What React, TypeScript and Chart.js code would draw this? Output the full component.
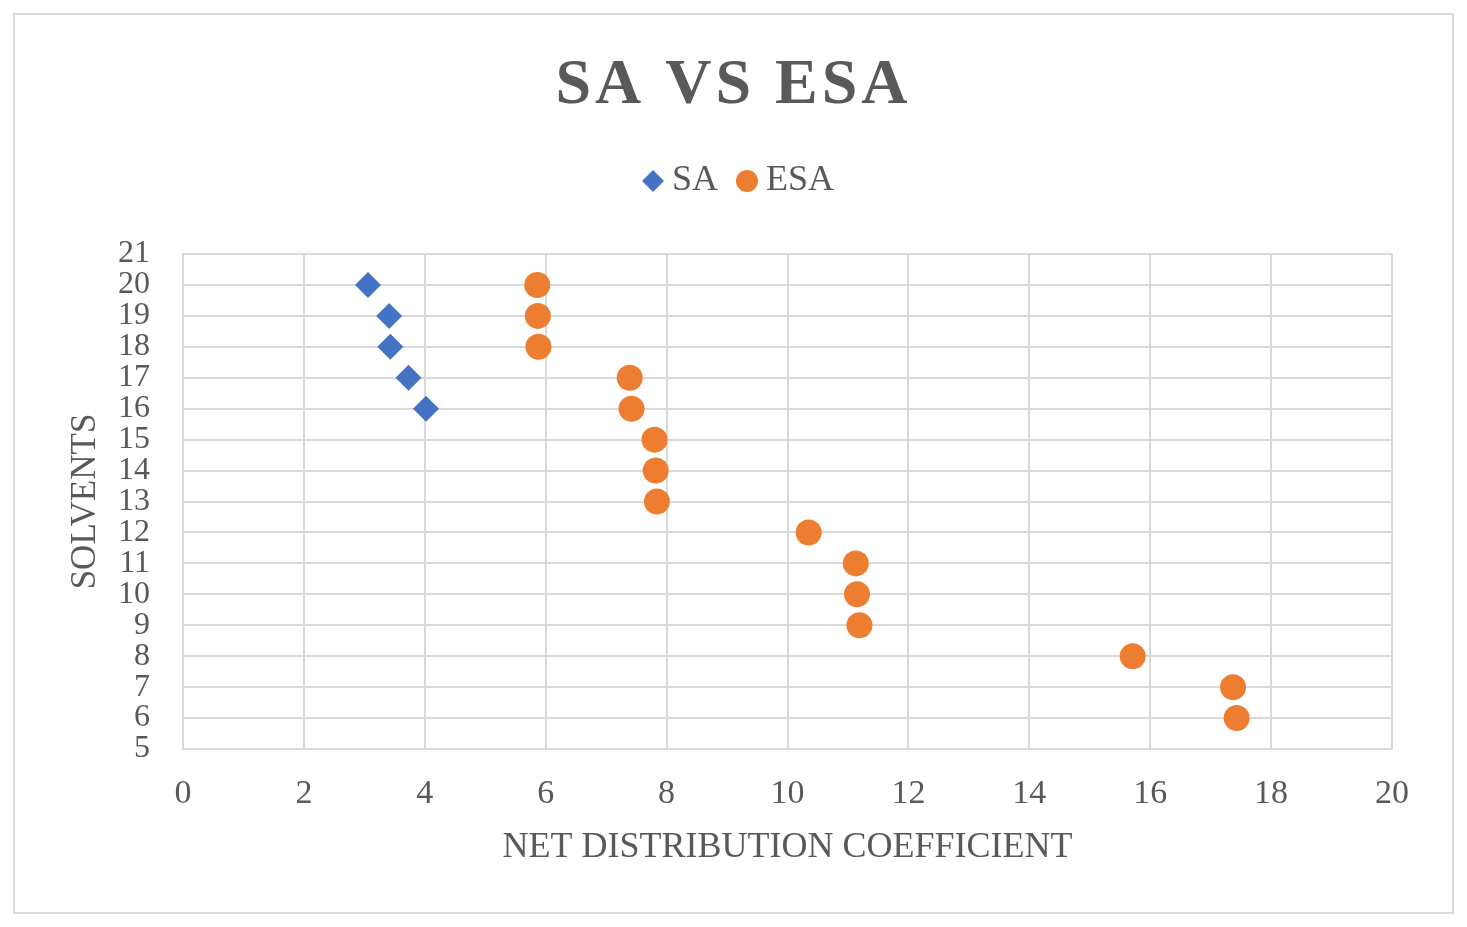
import React, { useEffect, useRef } from "react";
import { Chart, registerables } from "chart.js";

Chart.register(...registerables);

const TITLE = "SA VS ESA";
const X_TITLE = "NET DISTRIBUTION COEFFICIENT";
const Y_TITLE = "SOLVENTS";

const SA_X = [3.06, 3.41, 3.43, 3.73, 4.02];
const SA_Y = [20, 19, 18, 17, 16];

const ESA_X = [5.86, 5.87, 5.88, 7.39, 7.42, 7.8, 7.82, 7.84, 10.35, 11.13, 11.15, 11.19, 15.71, 17.37, 17.43];
const ESA_Y = [20, 19, 18, 17, 16, 15, 14, 13, 12, 11, 10, 9, 8, 7, 6];

const X_MIN = 0;
const X_MAX = 20;
const X_STEP = 2;
const Y_MIN = 5;
const Y_MAX = 21;
const Y_STEP = 1;

const FONT = '"Liberation Serif", "Times New Roman", serif';
const TEXT = "#595959";
const GRID = "#d9d9d9";

const W = 1437;
const H = 897;

const titlePlugin = {
  id: "letterSpacedTitle",
  afterDraw(chart: any) {
    const ctx = chart.ctx;
    ctx.save();
    ctx.font = `bold 64px ${FONT}`;
    ctx.fillStyle = TEXT;
    ctx.textAlign = "center";
    ctx.textBaseline = "alphabetic";
    (ctx as any).letterSpacing = "4px";
    ctx.fillText(TITLE, chart.width / 2, 88);
    ctx.restore();
  },
};

const legendGapPlugin = {
  id: "legendGap",
  beforeLayout(chart: any) {
    const lg = chart.legend;
    if (lg && !lg.__gapPatched) {
      const origFit = lg.fit.bind(lg);
      lg.fit = function () {
        origFit();
        this.height += 45;
      };
      lg.__gapPatched = true;
    }
  },
};

export default function App() {
  const ref = useRef<HTMLCanvasElement | null>(null);

  useEffect(() => {
    if (!ref.current) return;
    const chart = new Chart(ref.current, {
      type: "scatter",
      data: {
        datasets: [
          {
            label: "SA",
            data: SA_X.map((x, i) => ({ x, y: SA_Y[i] })),
            pointStyle: "rectRot",
            pointRadius: 13,
            backgroundColor: "#4472C4",
            borderColor: "#4472C4",
            borderWidth: 0,
          },
          {
            label: "ESA",
            data: ESA_X.map((x, i) => ({ x, y: ESA_Y[i] })),
            pointStyle: "circle",
            pointRadius: 13,
            backgroundColor: "#ED7D31",
            borderColor: "#ED7D31",
            borderWidth: 0,
          },
        ],
      },
      options: {
        responsive: false,
        animation: false,
        events: [],
        layout: { padding: { top: 120, left: 79, right: 60, bottom: 0 } },
        plugins: {
          title: { display: false },
          tooltip: { enabled: false },
          legend: {
            display: true,
            position: "top",
            labels: {
              usePointStyle: true,
              boxWidth: 2,
              boxHeight: 15.56,
              padding: 28,
              color: TEXT,
              font: { family: FONT, size: 36 },
            },
          },
        },
        scales: {
          x: {
            type: "linear",
            min: X_MIN,
            max: X_MAX,
            ticks: {
              stepSize: X_STEP,
              padding: 25,
              color: TEXT,
              font: { family: FONT, size: 34 },
            },
            grid: { color: GRID, lineWidth: 2, drawTicks: false },
            border: { display: true, color: GRID, width: 2 },
            title: {
              display: true,
              text: X_TITLE,
              color: TEXT,
              font: { family: FONT, size: 36, lineHeight: 1 },
              padding: { top: 0, bottom: 46 },
            },
            afterFit(scale: any) {
              scale.height = 163;
            },
          },
          y: {
            type: "linear",
            min: Y_MIN,
            max: Y_MAX,
            ticks: {
              stepSize: Y_STEP,
              autoSkip: false,
              padding: 33,
              color: TEXT,
              font: { family: FONT, size: 32 },
            },
            grid: { color: GRID, lineWidth: 2, drawTicks: false },
            border: { display: true, color: GRID, width: 2 },
            title: {
              display: true,
              text: Y_TITLE,
              color: TEXT,
              font: { family: FONT, size: 35, lineHeight: 1 },
              padding: { top: -25.5, bottom: 0 },
            },
            afterFit(scale: any) {
              scale.width = 89;
            },
          },
        },
      } as any,
      plugins: [titlePlugin, legendGapPlugin],
    });
    return () => chart.destroy();
  }, []);

  return (
    <div
      style={{
        position: "absolute",
        left: 13,
        top: 13,
        width: 1441,
        height: 901,
        border: "2px solid #d9d9d9",
        boxSizing: "border-box",
        background: "#fff",
      }}
    >
      <canvas ref={ref} width={W} height={H} style={{ width: W, height: H, display: "block" }} />
    </div>
  );
}
